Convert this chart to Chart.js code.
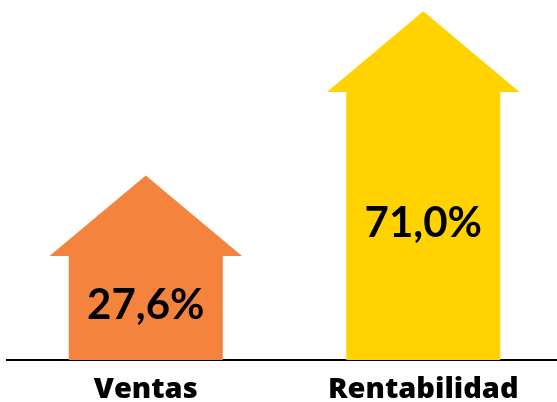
<!DOCTYPE html>
<html>
<head>
<meta charset="utf-8">
<script src="https://cdn.jsdelivr.net/npm/chart.js@4.4.0/dist/chart.umd.min.js"></script>
<style>
  html, body { margin: 0; padding: 0; background: #fff; }
  #wrap { width: 557px; height: 402px; }
</style>
</head>
<body>
<div id="wrap"><canvas id="arrows"></canvas></div>
<script>
var categories = ['Ventas', 'Rentabilidad'];
var values = [27.6, 71.0];
var valueLabels = ['27,6%', '71,0%'];
var colors = ['#F4833D', '#FFD200'];

// draws the arrow head on top of each bar and the value inside it
var arrowPlugin = {
  id: 'arrowHeads',
  afterDatasetsDraw: function(chart) {
    var ctx = chart.ctx;
    var meta = chart.getDatasetMeta(0);
    meta.data.forEach(function(bar, i) {
      var half = bar.width / 2;
      var wing = bar.width * 0.125;
      var tip = bar.width * 0.52;
      ctx.save();
      ctx.fillStyle = colors[i];
      ctx.beginPath();
      ctx.moveTo(bar.x - half - wing, bar.y + 0.5);
      ctx.lineTo(bar.x, bar.y - tip);
      ctx.lineTo(bar.x + half + wing, bar.y + 0.5);
      ctx.closePath();
      ctx.fill();

      ctx.fillStyle = '#000';
      ctx.font = 'bold 42px Lato';
      ctx.textAlign = 'center';
      ctx.textBaseline = 'middle';
      ctx.fillText(valueLabels[i], bar.x, (bar.y + bar.base) / 2 - 2);
      ctx.restore();
    });
  }
};

new Chart(document.getElementById('arrows'), {
  type: 'bar',
  data: {
    datasets: [{
      data: values.map(function(v, i) { return { x: i, y: v }; }),
      backgroundColor: colors,
      borderWidth: 0,
      categoryPercentage: 1,
      barPercentage: 0.555
    }]
  },
  options: {
    responsive: true,
    maintainAspectRatio: false,
    animation: false,
    layout: {
      padding: { top: 4, left: 7, right: 0, bottom: 0 }
    },
    plugins: {
      legend: { display: false },
      tooltip: { enabled: false }
    },
    scales: {
      x: {
        type: 'linear',
        offset: false,
        min: -0.5,
        max: 1.482,
        z: 1,
        grid: { display: false, drawTicks: false, offset: false },
        border: { display: true, color: '#000', width: 2 },
        afterBuildTicks: function(axis) {
          axis.ticks = categories.map(function(c, i) { return { value: i }; });
        },
        afterFit: function(axis) { axis.height = 42; },
        ticks: {
          color: '#000',
          padding: 23,
          callback: function(v) { return categories[v]; },
          font: { family: 'Open Sans', size: 29, weight: '800', lineHeight: '14px' }
        }
      },
      y: {
        display: false,
        min: 0,
        max: 94.1
      }
    }
  },
  plugins: [arrowPlugin]
});
</script>
</body>
</html>
